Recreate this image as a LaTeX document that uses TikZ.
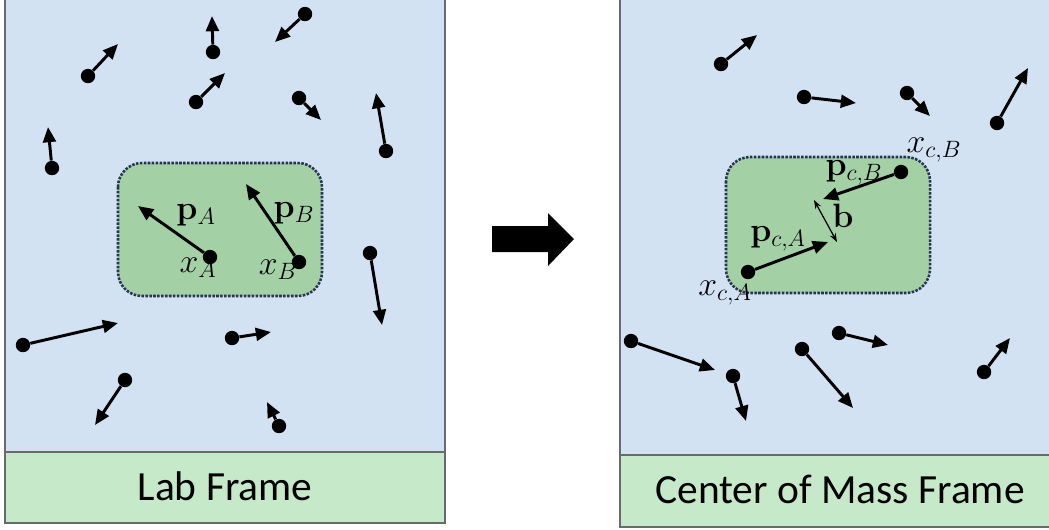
\RequirePackage{fix-cm}
\documentclass[tikz,border=0pt]{standalone}
\usepackage[no-math]{fontspec}
\newfontfamily\calibri{Carlito}
\usetikzlibrary{arrows.meta}

\definecolor{skyfill}{RGB}{210,226,243}
\definecolor{barfill}{RGB}{198,234,201}
\definecolor{boxfill}{RGB}{163,208,165}
\definecolor{boxline}{RGB}{40,52,84}
\definecolor{panelline}{RGB}{105,105,110}

\tikzset{
  panel/.style={draw=panelline,line width=1.2pt,fill=skyfill},
  bar/.style={draw=panelline,line width=1.2pt,fill=barfill},
  cmbox/.style={draw=boxline,fill=boxfill,line width=1.8pt,densely dotted,rounded corners=0.6cm},
  dot/.style={circle,fill=black,inner sep=0pt,minimum size=0.36cm},
  vec/.style={line width=2.1pt,-{Triangle[length=0.38cm,width=0.32cm]}},
  thinvec/.style={line width=0.9pt,{Stealth[length=0.22cm,width=0.16cm]}-{Stealth[length=0.22cm,width=0.16cm]}},
  lbl/.style={font=\fontsize{24}{28}\selectfont,inner sep=0pt},
  framelbl/.style={font=\calibri\fontsize{29.5}{34}\selectfont}
}

\begin{document}
\begin{tikzpicture}[x=0.025cm,y=-0.025cm]
  \useasboundingbox (0,0) rectangle (1049,529);

  % lab frame
  \draw[panel] (5,-5) rectangle (445,452);
  \draw[bar] (5,452) rectangle (445,523);
  \node[framelbl] (labname) at (225,486) {Lab Frame};

  \node[dot] (L1) at (88,76) {};    \coordinate (L1t) at (118,44);  \draw[vec] (L1) -- (L1t);
  \node[dot] (L2) at (213,52) {};   \coordinate (L2t) at (212,16);  \draw[vec] (L2) -- (L2t);
  \node[dot] (L3) at (305,14) {};   \coordinate (L3t) at (275,42);  \draw[vec] (L3) -- (L3t);
  \node[dot] (L4) at (196,102) {};  \coordinate (L4t) at (225,73);  \draw[vec] (L4) -- (L4t);
  \node[dot] (L5) at (299,98) {};   \coordinate (L5t) at (321,120); \draw[vec] (L5) -- (L5t);
  \node[dot] (L6) at (386,151) {};  \coordinate (L6t) at (376,93);  \draw[vec] (L6) -- (L6t);
  \node[dot] (L7) at (52,168) {};   \coordinate (L7t) at (48,127);  \draw[vec] (L7) -- (L7t);
  \node[dot] (L8) at (23,345) {};   \coordinate (L8t) at (118,323); \draw[vec] (L8) -- (L8t);
  \node[dot] (L9) at (232,338) {};  \coordinate (L9t) at (271,332); \draw[vec] (L9) -- (L9t);
  \node[dot] (L10) at (125,380) {}; \coordinate (L10t) at (95,425); \draw[vec] (L10) -- (L10t);
  \node[dot] (L11) at (279,426) {}; \coordinate (L11t) at (267,402); \draw[vec] (L11) -- (L11t);
  \node[dot] (L12) at (370,253) {}; \coordinate (L12t) at (382,325); \draw[vec] (L12) -- (L12t);

  % the colliding pair, lab frame
  \draw[cmbox] (118,163) rectangle (322,296);
  \node[dot] (xA) at (210,257) {}; \coordinate (xAt) at (138,206); \draw[vec] (xA) -- (xAt);
  \node[dot] (xB) at (299,262) {}; \coordinate (xBt) at (246,184); \draw[vec] (xB) -- (xBt);
  \node[lbl] (pA) at (196,215) {$\mathbf{p}_A$};
  \node[lbl] (xAname) at (198,268) {$x_A$};
  \node[lbl] (pB) at (294,213) {$\mathbf{p}_B$};
  \node[lbl] (xBname) at (278,270) {$x_B$};

  % change of frame
  \fill (492,226) -- (548,226) -- (548,213) -- (574,239) -- (548,266) -- (548,252) -- (492,252) -- cycle;

  % centre of mass frame
  \draw[panel] (620,-5) rectangle (1060,455);
  \draw[bar] (620,455) rectangle (1060,527);
  \node[framelbl] (cmname) at (840,489) {Center of Mass Frame};

  \node[dot] (R1) at (721,64) {};   \coordinate (R1t) at (757,35);  \draw[vec] (R1) -- (R1t);
  \node[dot] (R2) at (804,97) {};   \coordinate (R2t) at (856,103); \draw[vec] (R2) -- (R2t);
  \node[dot] (R3) at (907,93) {};   \coordinate (R3t) at (930,116); \draw[vec] (R3) -- (R3t);
  \node[dot] (R4) at (997,123) {};  \coordinate (R4t) at (1028,68); \draw[vec] (R4) -- (R4t);
  \node[dot] (R5) at (631,341) {};  \coordinate (R5t) at (715,370); \draw[vec] (R5) -- (R5t);
  \node[dot] (R6) at (733,376) {};  \coordinate (R6t) at (746,421); \draw[vec] (R6) -- (R6t);
  \node[dot] (R7) at (802,349) {};  \coordinate (R7t) at (853,408); \draw[vec] (R7) -- (R7t);
  \node[dot] (R8) at (839,333) {};  \coordinate (R8t) at (888,345); \draw[vec] (R8) -- (R8t);
  \node[dot] (R9) at (984,372) {};  \coordinate (R9t) at (1010,338); \draw[vec] (R9) -- (R9t);

  % the colliding pair, centre of mass frame
  \draw[cmbox] (726,157) rectangle (930,293);
  \node[dot] (xcA) at (748,272) {}; \coordinate (xcAt) at (828,242); \draw[vec] (xcA) -- (xcAt);
  \node[dot] (xcB) at (901,172) {}; \coordinate (xcBt) at (823,199); \draw[vec] (xcB) -- (xcBt);
  \coordinate (b1) at (814,200);
  \coordinate (b2) at (837,242);
  \draw[thinvec] (b1) -- (b2);
  \node[lbl] (bname) at (843,216) {$\mathbf{b}$};
  \node[lbl] (pcA) at (778,239) {$\mathbf{p}_{c,A}$};
  \node[lbl] (pcB) at (854,173) {$\mathbf{p}_{c,B}$};
  \node[lbl] (xcAname) at (725,293) {$x_{c,A}$};
  \node[lbl] (xcBname) at (934,150) {$x_{c,B}$};
\end{tikzpicture}
\end{document}
